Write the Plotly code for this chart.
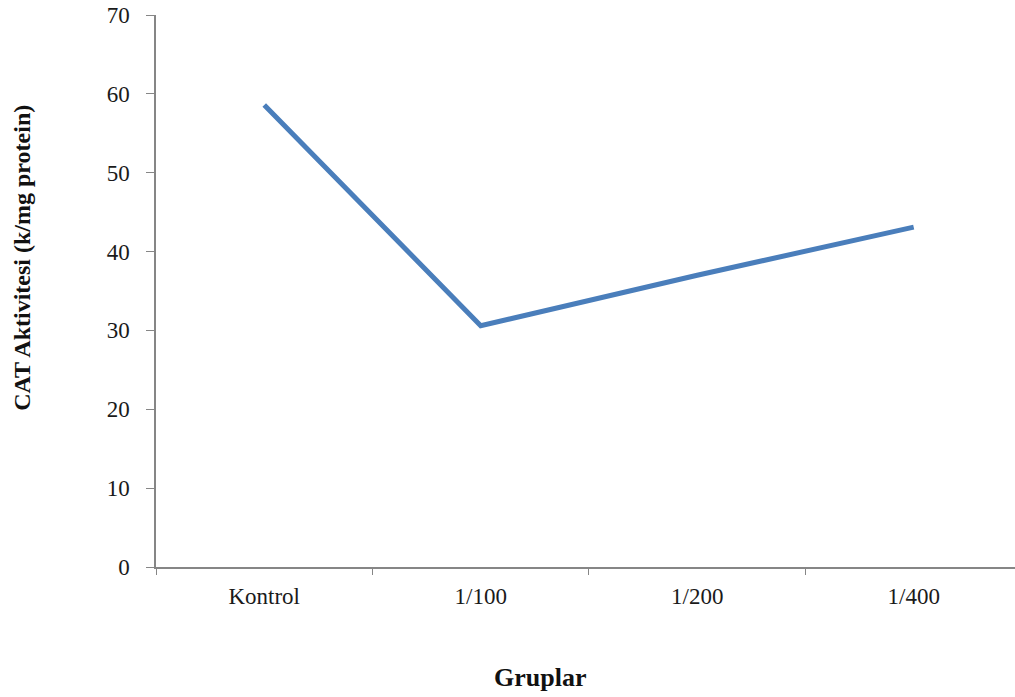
import plotly.graph_objects as go

# CAT activity per group
groups = ["Kontrol", "1/100", "1/200", "1/400"]
cat_activity = [58.6, 30.6, 37.0, 43.1]

y_ticks = [0, 10, 20, 30, 40, 50, 60, 70]

axis_grey = "#868686"
line_blue = "#4A7EBB"
serif = "Liberation Serif, Times New Roman, serif"

fig = go.Figure()
fig.add_trace(go.Scatter(
    x=groups,
    y=cat_activity,
    mode="lines",
    line=dict(color=line_blue, width=5),
    showlegend=False,
    hoverinfo="x+y",
))

fig.update_layout(
    width=1015,
    height=697,
    margin=dict(l=156, r=0, t=15, b=130),
    paper_bgcolor="white",
    plot_bgcolor="white",
    font=dict(family=serif, color="#1a1a1a"),
    xaxis=dict(
        type="category",
        range=[-0.5, 3.468],
        showline=True,
        linecolor=axis_grey,
        linewidth=1.5,
        showgrid=False,
        zeroline=False,
        ticks="outside",
        tickson="boundaries",
        ticklen=6,
        tickcolor=axis_grey,
        tickfont=dict(family=serif, size=23, color="#1a1a1a"),
        ticklabelstandoff=8,
    ),
    yaxis=dict(
        range=[0, 70],
        tickvals=y_ticks,
        showline=True,
        linecolor=axis_grey,
        linewidth=1.5,
        showgrid=False,
        zeroline=False,
        ticks="outside",
        ticklen=8,
        tickcolor=axis_grey,
        tickfont=dict(family=serif, size=23, color="#1a1a1a"),
        ticklabelstandoff=12,
    ),
    annotations=[
        dict(
            text="<b>Gruplar</b>",
            xref="paper", yref="paper",
            x=(540 - 156) / (1015 - 156), y=-(678 - 567.5) / (567.5 - 15),
            xanchor="center", yanchor="middle",
            showarrow=False,
            font=dict(family=serif, size=26, color="#111111"),
        ),
        dict(
            text="<b>CAT Aktivitesi (k/mg protein)</b>",
            xref="paper", yref="paper",
            x=-(156 - 22) / (1015 - 156), y=(567.5 - 258) / (567.5 - 15),
            xanchor="center", yanchor="middle",
            textangle=-90,
            showarrow=False,
            font=dict(family=serif, size=24, color="#111111"),
        ),
    ],
)

fig.write_html("out.html")
